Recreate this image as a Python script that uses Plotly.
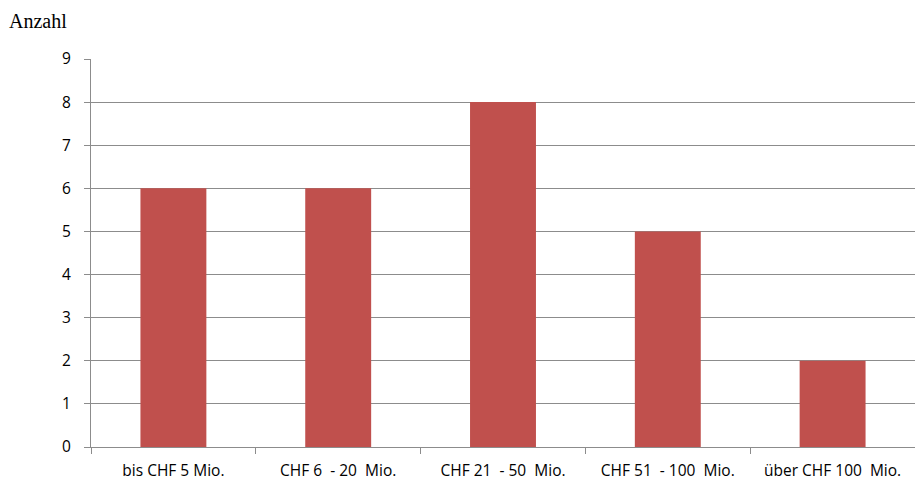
import plotly.graph_objects as go

# Anzahl nach Grössenklasse
categories = ["bis CHF 5 Mio.", "CHF 6  - 20  Mio.", "CHF 21  - 50  Mio.",
              "CHF 51  - 100  Mio.", "über CHF 100  Mio."]
counts = [6, 6, 8, 5, 2]
y_ticks = list(range(0, 10))

bar_color = "#C0504D"
grid_color = "#8C8C8C"
label_font = dict(family="Open Sans, Liberation Sans, sans-serif", size=15.5, color="#000000")

fig = go.Figure(
    go.Bar(
        x=categories,
        y=counts,
        marker=dict(color=bar_color, line=dict(width=0)),
        hoverinfo="x+y",
    )
)

fig.update_layout(
    width=915,
    height=484,
    margin=dict(l=91, r=0, t=59, b=37),
    paper_bgcolor="white",
    plot_bgcolor="white",
    bargap=0.6,
    showlegend=False,
    font=label_font,
    annotations=[
        dict(
            text="Anzahl",
            xref="paper", yref="paper",
            x=-84 / 824, y=1 + 38 / 388,
            xanchor="left", yanchor="middle",
            showarrow=False,
            font=dict(family="Liberation Serif, serif", size=20, color="#000000"),
        )
    ],
)

fig.update_xaxes(
    type="category",
    tickson="boundaries",
    ticks="outside",
    ticklen=6,
    tickcolor=grid_color,
    showline=True,
    linecolor=grid_color,
    linewidth=1,
    showgrid=False,
    tickfont=label_font,
    ticklabelstandoff=9,
)

fig.update_yaxes(
    range=[0, 9],
    tickvals=y_ticks,
    ticks="outside",
    ticklen=6,
    tickcolor=grid_color,
    showline=True,
    linecolor=grid_color,
    linewidth=1,
    showgrid=True,
    gridcolor=grid_color,
    gridwidth=1,
    zeroline=False,
    tickfont=label_font,
    ticklabelstandoff=10,
)

fig.write_html("out.html")
